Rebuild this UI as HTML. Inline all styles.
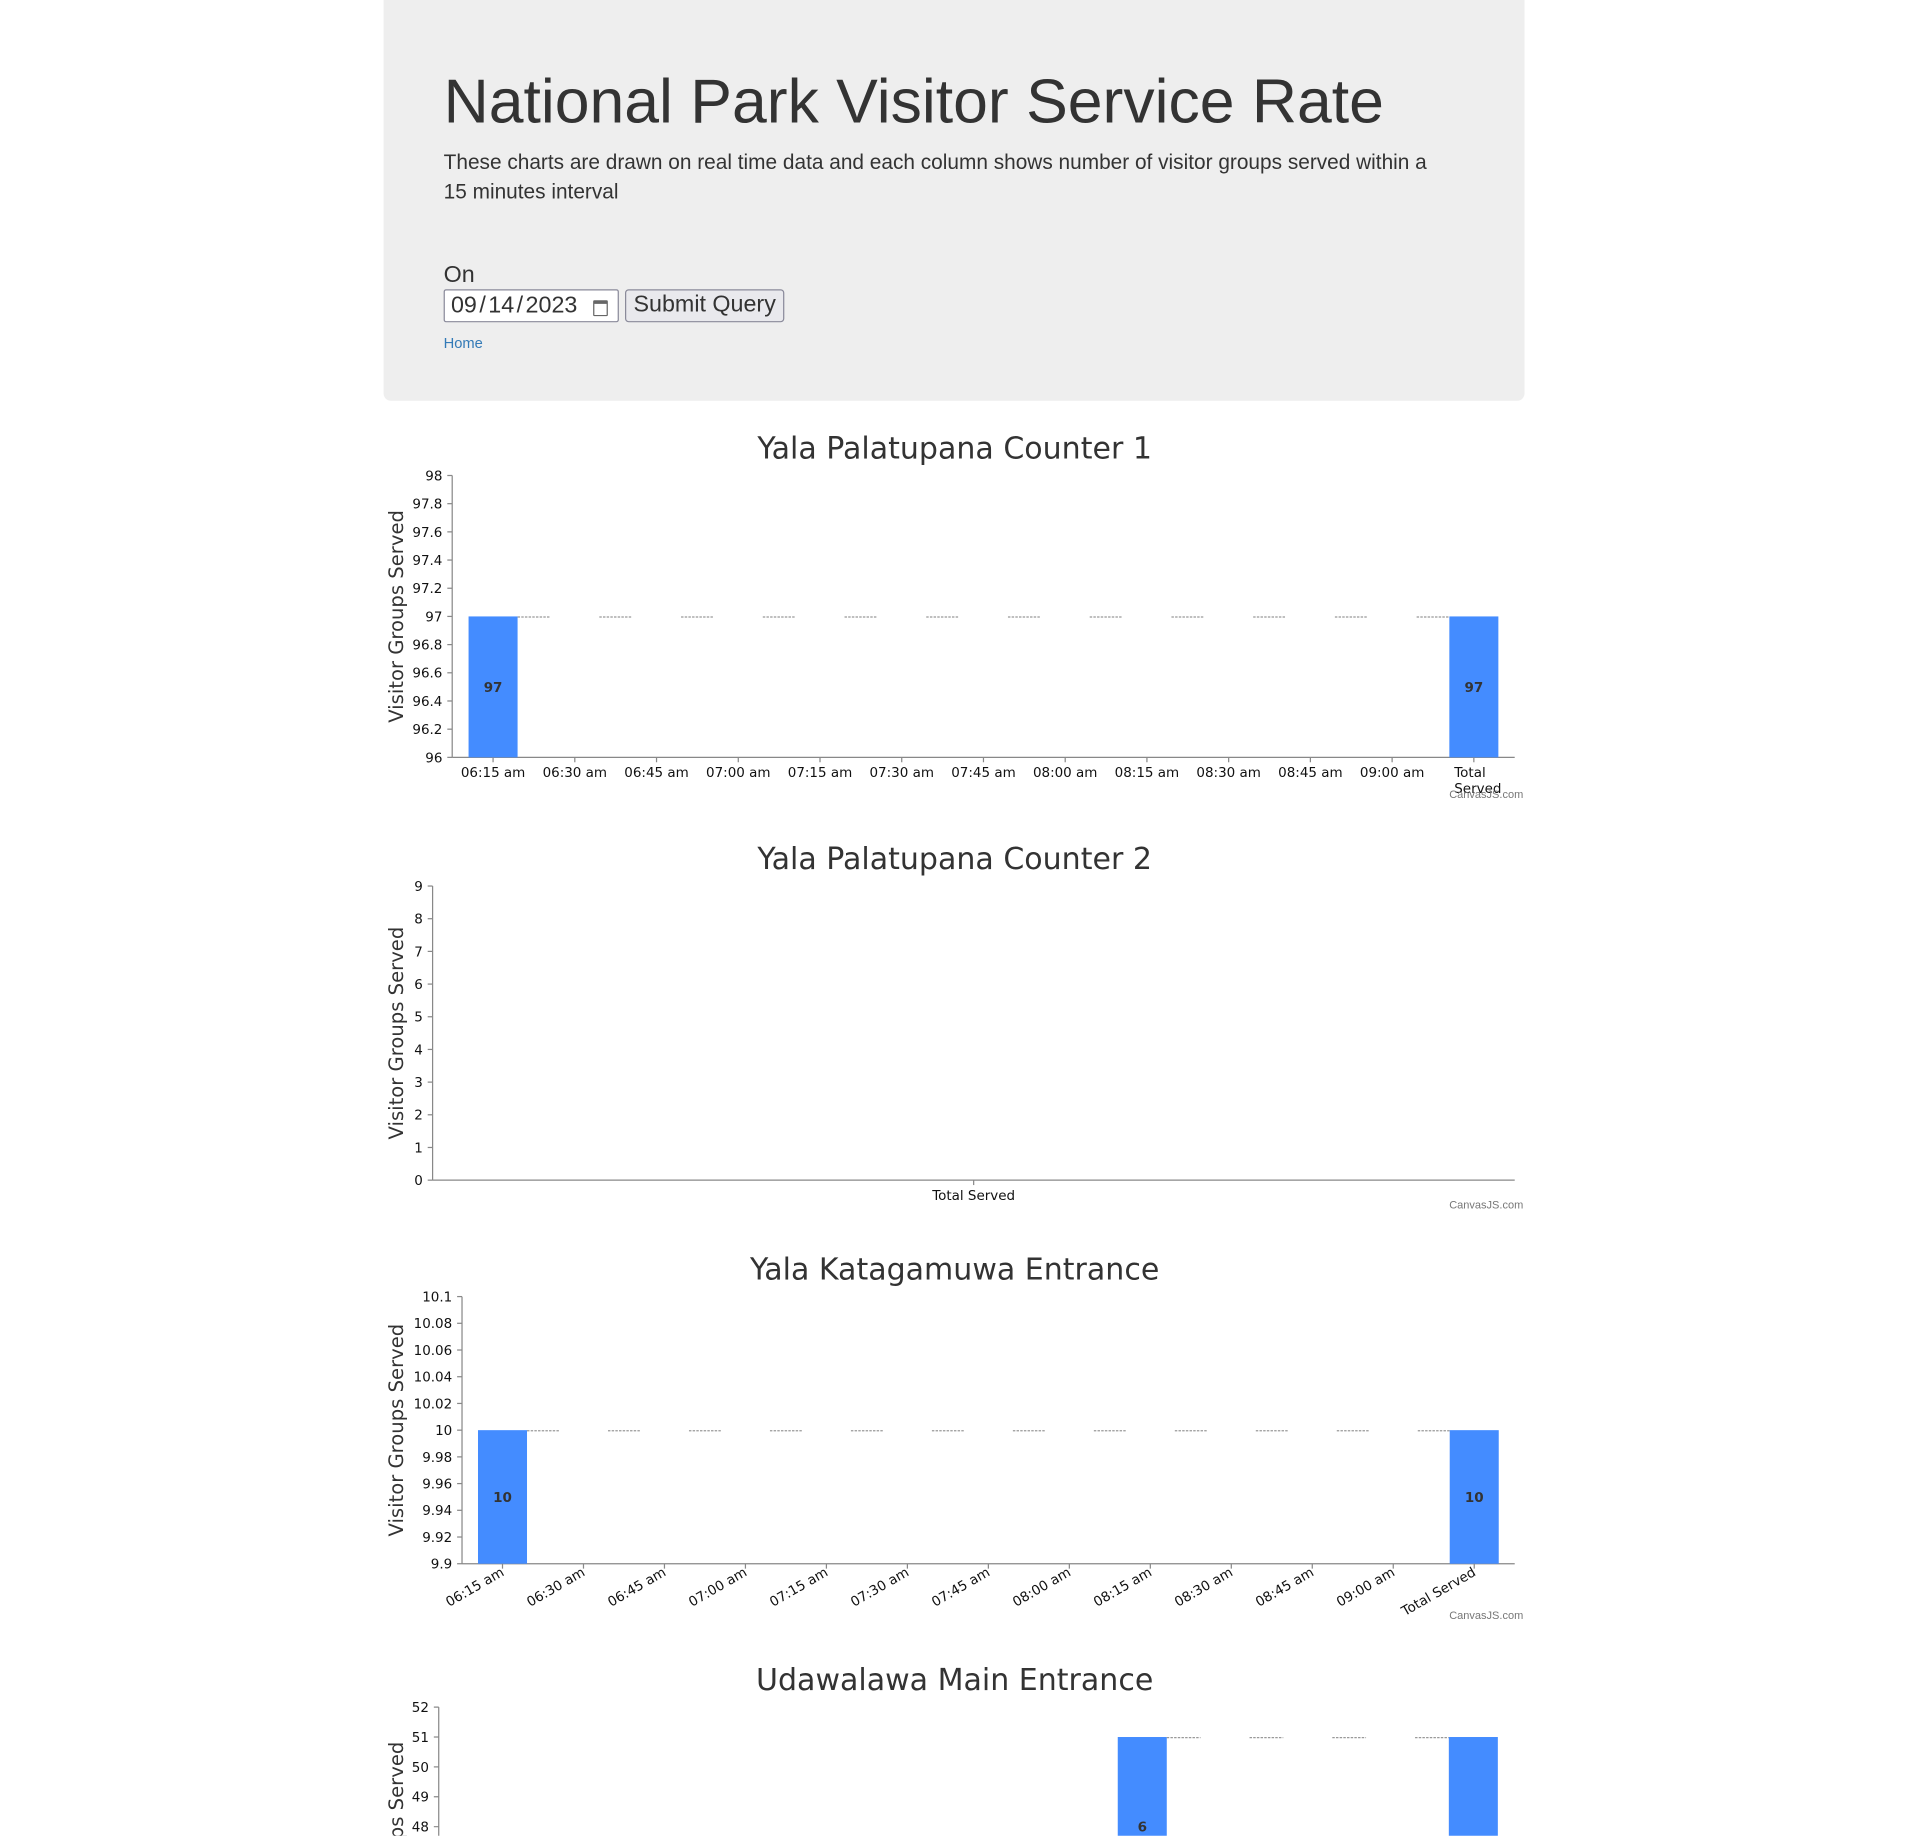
<!DOCTYPE html>
<html><head><meta charset="utf-8">
<style>
html,body{margin:0;padding:0;background:#fff;}
body{width:1920px;height:1835px;overflow:hidden;position:relative;}
#wrap{position:absolute;left:0;top:0;width:1567px;height:1498px;transform:scale(1.2255);transform-origin:0 0;font-family:"Liberation Sans",sans-serif;color:#333;}
.jumbo{position:absolute;left:313px;top:0;width:931px;height:327px;background:#eee;border-radius:0 0 6px 6px;}
.jumbo h1{position:absolute;left:49px;top:55px;margin:0;font-size:51px;font-weight:400;line-height:1.1;color:#333;white-space:nowrap;}
.jumbo p{position:absolute;left:49px;top:121px;margin:0;font-size:17px;line-height:24px;width:840px;}
.on{position:absolute;left:49px;top:214px;font-size:19px;}
.date{position:absolute;left:49px;top:236px;width:141px;height:25px;background:#fff;border:1px solid #8a8a9a;border-radius:2px;font-size:19px;line-height:25px;box-sizing:content-box;}
.date span{position:absolute;left:5px;top:0;}
.date i{font-style:normal;margin:0 2px;}
.cal{position:absolute;right:8px;top:8px;width:10px;height:9px;border:1.5px solid #666;border-top-width:3px;border-radius:1px;}
.btn{position:absolute;left:197px;top:236px;width:128px;height:25px;background:#e9e9ed;border:1px solid #8a8a9a;border-radius:3px;font-size:19px;line-height:24px;text-align:center;color:#333;}
.home{position:absolute;left:49px;top:273px;font-size:12px;color:#337ab7;text-decoration:none;}
svg{position:absolute;left:0;top:0;}
</style></head>
<body>
<div id="wrap">
<div class="jumbo">
<h1>National Park Visitor Service Rate</h1>
<p>These charts are drawn on real time data and each column shows number of visitor groups served within a<br>15 minutes interval</p>
<div class="on">On</div>
<div class="date"><span>09<i>/</i>14<i>/</i>2023</span><div class="cal"></div></div>
<div class="btn">Submit Query</div>
<a class="home" href="#">Home</a>
</div>
<svg id="charts" width="1567" height="1498"></svg>
</div>
<script>
var times = ["06:15 am","06:30 am","06:45 am","07:00 am","07:15 am","07:30 am","07:45 am","08:00 am","08:15 am","08:30 am","08:45 am","09:00 am","Total Served"];
var c1Values = [97,0,0,0,0,0,0,0,0,0,0,0,97];
var c1Ticks = ["96","96.2","96.4","96.6","96.8","97","97.2","97.4","97.6","97.8","98"];
var c2Categories = ["Total Served"];
var c2Values = [0];
var c2Ticks = ["0","1","2","3","4","5","6","7","8","9"];
var c3Values = [10,0,0,0,0,0,0,0,0,0,0,0,10];
var c3Ticks = ["9.9","9.92","9.94","9.96","9.98","10","10.02","10.04","10.06","10.08","10.1"];
var c4Values = [45,0,0,0,0,0,0,0,6,0,0,0,51];
var c4Ticks = ["43","44","45","46","47","48","49","50","51","52"];

var NS="http://www.w3.org/2000/svg";
var svg=document.getElementById('charts');
function mk(tag,attrs,parent){var e=document.createElementNS(NS,tag);for(var k in attrs)e.setAttribute(k,attrs[k]);(parent||svg).appendChild(e);return e;}

function chart(o){
  var g=mk('g',{});
  
  
  var t=mk('text',{x:779,y:o.top-14,'text-anchor':'middle','font-family':'DejaVu Sans,sans-serif','font-size':24.5,fill:'#333'},g);
  t.textContent=o.title;
  
  
  var x0=o.axisX,x1=1236,yT=o.top,yB=o.top+o.h;
  var min=o.min,max=o.max;
  function Y(v){return yB-(v-min)/(max-min)*(yB-yT);}
  var n=o.cats.length,cw=(x1-x0)/n;
  function X(i){return x0+cw*(i+0.5);}
  var at=mk('text',{x:0,y:0,transform:'translate(329,'+((yT+yB)/2)+') rotate(-90)','text-anchor':'middle','font-family':'DejaVu Sans,sans-serif','font-size':16,fill:'#333'},g);
  at.textContent='Visitor Groups Served';
  
  
  o.ticks.forEach(function(s){var v=parseFloat(s),y=Y(v);if(y<yT-1)return;
    mk('line',{x1:x0-4,x2:x0,y1:y,y2:y,stroke:'#888'},g);
    var tl=mk('text',{x:x0-8,y:y+4,'text-anchor':'end','font-family':'DejaVu Sans,sans-serif','font-size':11,fill:'#111'},g);
    tl.textContent=s;
    
    
  });
  mk('line',{x1:x0,x2:x0,y1:yT,y2:Math.min(yB,1500),stroke:'#888'},g);
  mk('line',{x1:x0,x2:x1,y1:yB,y2:yB,stroke:'#888'},g);
  var cum=0,bw=40,prevEnd=null;
  o.vals.forEach(function(v,i){
    var isTotal=(o.cats[i]==='Total Served');
    var lo,hi;
    if(isTotal){lo=min;hi=cum;}else{lo=cum;hi=cum+v;cum=hi;}
    var cx=X(i);
    if(prevEnd!==null && n>1){
      var cy=Y(prevEnd);
      if(cy>=yT&&cy<=yB){var dl=mk('line',{x1:cx-cw+bw/2,x2:cx-bw/2,y1:cy+0.5,y2:cy+0.5,stroke:'#999','stroke-dasharray':'2,1'},g);
      
      }
    }
    prevEnd=isTotal?cum:hi;
    var a=Math.max(lo,min),b=Math.min(hi,max);
    if(b>a){
      var yb1=Y(b),yb2=Y(a);
      var r=mk('rect',{x:cx-bw/2,y:yb1,width:bw,height:yb2-yb1,fill:'#448cff'},g);
      
      
      var ly=(yb1+yb2)/2;
      var lb=mk('text',{x:cx,y:ly+4,'text-anchor':'middle','font-family':'DejaVu Sans,sans-serif','font-size':11,'font-weight':'bold',fill:'#333'},g);
      lb.textContent=isTotal?String(cum):String(v);
      
      
    }
    mk('line',{x1:cx,x2:cx,y1:yB,y2:yB+4,stroke:'#888'},g);
    var xl;
    if(o.rot){
      xl=mk('text',{x:0,y:0,transform:'translate('+(cx+2)+','+(yB+9)+') rotate(-30)','text-anchor':'end','font-family':'DejaVu Sans,sans-serif','font-size':11,fill:'#111'},g);
      xl.textContent=o.cats[i];
    } else if(isTotal && n>1){
      xl=mk('text',{x:cx-16,y:yB+16,'font-family':'DejaVu Sans,sans-serif','font-size':11,fill:'#111'},g);
      var s1=mk('tspan',{x:cx-16},xl);s1.textContent='Total';
      var s2=mk('tspan',{x:cx-16,dy:13},xl);s2.textContent='Served';
    } else {
      xl=mk('text',{x:cx,y:yB+16,'text-anchor':'middle','font-family':'DejaVu Sans,sans-serif','font-size':11,fill:'#111'},g);
      xl.textContent=o.cats[i];
    }
    
    
  });
  var cr=mk('text',{x:1243,y:yB+o.cred,'text-anchor':'end','font-family':'Liberation Sans,sans-serif','font-size':9,fill:'#777'},g);
  cr.textContent='CanvasJS.com';
  
  
}
chart({name:'chart-counter-1',title:'Yala Palatupana Counter 1',top:388,h:230,axisX:369,min:96,max:98,ticks:c1Ticks,cats:times,vals:c1Values,cred:33});
chart({name:'chart-counter-2',title:'Yala Palatupana Counter 2',top:723,h:240,axisX:353,min:0,max:9,ticks:c2Ticks,cats:c2Categories,vals:c2Values,cred:23});
chart({name:'chart-katagamuwa',title:'Yala Katagamuwa Entrance',top:1058,h:218,axisX:377,min:9.9,max:10.1,ticks:c3Ticks,cats:times,vals:c3Values,rot:true,cred:45});
chart({name:'chart-udawalawa',title:'Udawalawa Main Entrance',top:1393,h:230,axisX:358,min:42.57,max:52,ticks:c4Ticks,cats:times,vals:c4Values,cred:33});
</script>
</body></html>
